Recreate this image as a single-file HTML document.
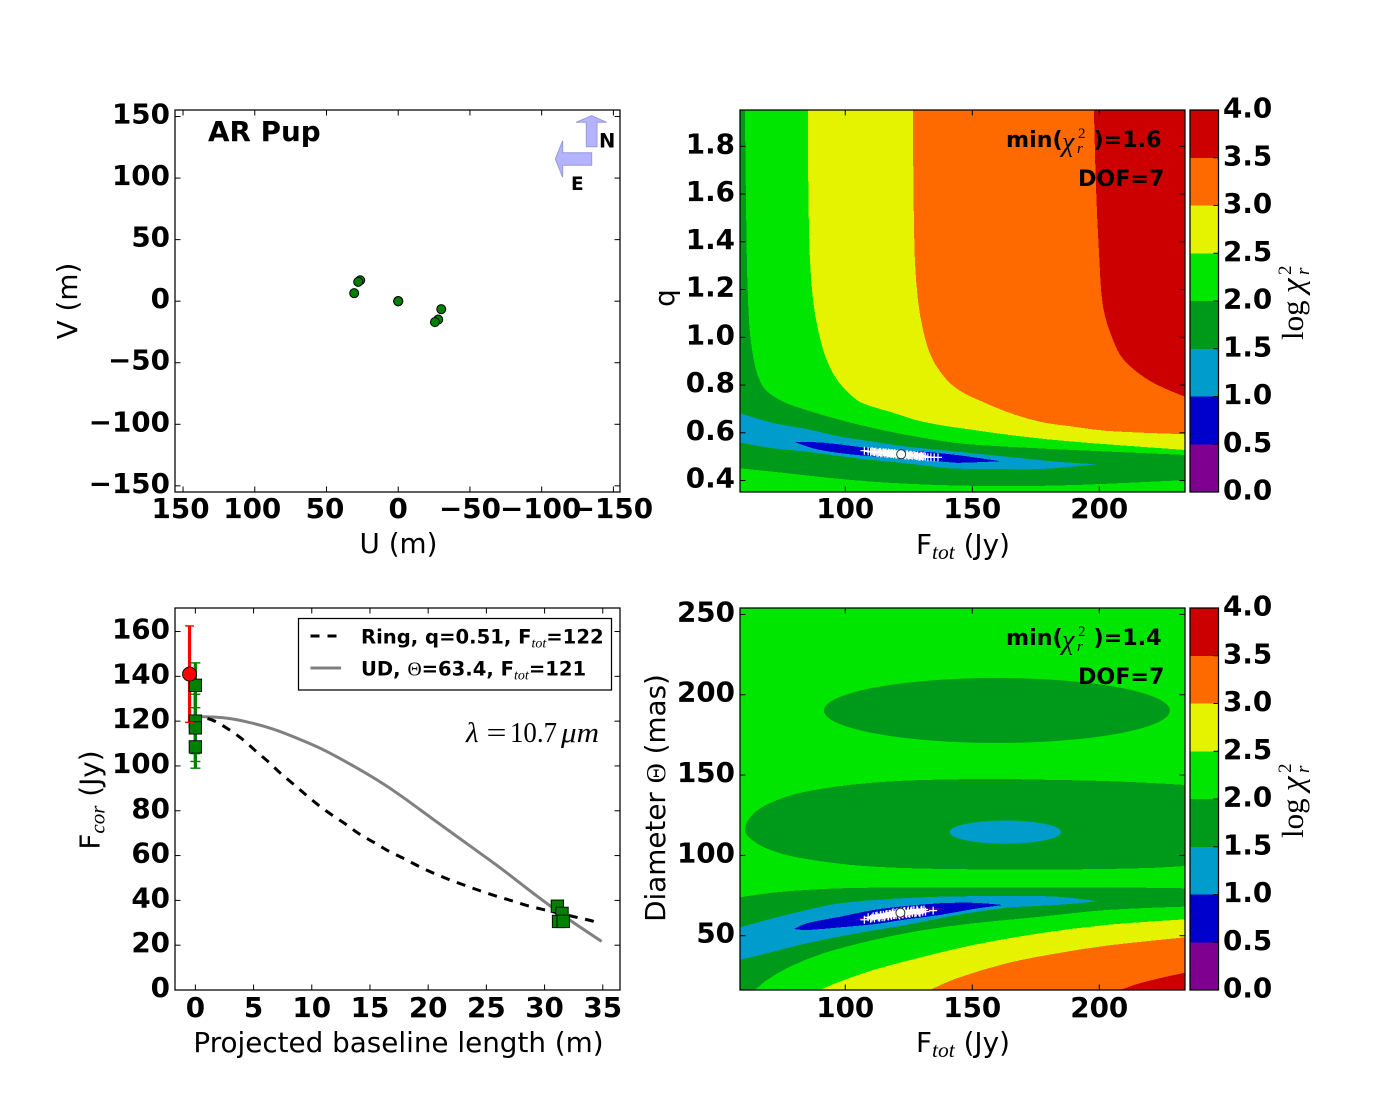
<!DOCTYPE html>
<html lang="en">
<head>
<meta charset="utf-8">
<title>AR Pup interferometry fit</title>
<style>
html,body{margin:0;padding:0;background:#fff;}
svg{display:block;}
text{fill:#000;font-family:"DejaVu Sans","Liberation Sans",sans-serif;}
.t{font-size:27.8px;font-weight:bold;}
.l{font-size:27.8px;font-weight:normal;}
.s{font-size:22.2px;font-weight:bold;}
.g{font-size:19.6px;font-weight:bold;}
.m{font-family:"Liberation Serif","DejaVu Serif",serif;font-weight:normal;}
.i{font-style:italic;}
</style>
</head>
<body>
<svg id="fig" xmlns="http://www.w3.org/2000/svg" width="1400" height="1100" viewBox="0 0 1400 1100">
  <rect x="0" y="0" width="1400" height="1100" fill="#fff"/>
  <defs>
    <clipPath id="clipQ"><rect x="740" y="110" width="445" height="382"/></clipPath>
    <clipPath id="clipD"><rect x="740" y="608" width="445" height="382"/></clipPath>
  </defs>

  <g id="uvPanel"></g>
  <g id="fluxPanel"></g>
  <g id="qPanel"></g>
  <g id="dPanel"></g>
  <g id="cbQ"></g>
  <g id="cbD"></g>

  <!-- UV panel annotations -->
  <text class="t" x="208" y="141">AR Pup</text>
  <polygon points="591.7,115.7 606.7,122.3 597,122.3 597,146.7 586.3,146.7 586.3,122.3 576,122.3" fill="#b3b3ff" stroke="#9a9ad8" stroke-width="1"/>
  <polygon points="555.3,159 562.7,140.7 562.7,152.7 591.7,152.7 591.7,165.3 562.7,165.3 562.7,177.3" fill="#b3b3ff" stroke="#9a9ad8" stroke-width="1"/>
  <text x="599" y="147.5" style="font-size:19.5px;font-weight:bold">N</text>
  <text x="571" y="190" style="font-size:18.5px;font-weight:bold">E</text>
  <text class="l" x="398.5" y="553" text-anchor="middle">U (m)</text>
  <text class="l" transform="translate(77,301) rotate(-90)" text-anchor="middle">V (m)</text>

  <!-- Ring map annotations -->
  <text class="l" x="963" y="554" text-anchor="middle">F<tspan class="m i" font-size="21.5" dy="5">tot</tspan><tspan dy="-5"> (Jy)</tspan></text>
  <text class="l" transform="translate(674,298) rotate(-90)" text-anchor="middle">q</text>
  <g>
    <text class="s" x="1006" y="147">min(</text>
    <text class="m i" x="1062" y="151" font-size="28">χ</text>
    <text class="m" x="1078" y="138" font-size="15">2</text>
    <text class="m i" x="1077" y="153" font-size="15">r</text>
    <text class="s" x="1093.5" y="147">)=1.6</text>
  </g>
  <text class="s" x="1078" y="186">DOF=7</text>

  <!-- Flux panel annotations -->
  <text class="l" x="398.5" y="1052" text-anchor="middle">Projected baseline length (m)</text>
  <text class="l" transform="translate(99.5,800) rotate(-90)" text-anchor="middle">F<tspan class="m i" font-size="21" dy="5">cor</tspan><tspan dy="-5"> (Jy)</tspan></text>
  <g>
    <text class="m i" x="466" y="742" font-size="29">λ</text>
    <text class="m" x="486.5" y="742" font-size="29" textLength="20" lengthAdjust="spacingAndGlyphs">=</text>
    <text class="m" x="510" y="742" font-size="29" textLength="47" lengthAdjust="spacingAndGlyphs">10.7</text>
    <text class="m i" x="561" y="742" font-size="29" textLength="38" lengthAdjust="spacingAndGlyphs">μm</text>
  </g>
  <g id="legend">
    <rect x="298.5" y="618.5" width="313" height="71.5" fill="#fff" stroke="#000" stroke-width="1.25"/>
    <line x1="310.5" y1="636" x2="341" y2="636" stroke="#000" stroke-width="3" stroke-dasharray="9 8"/>
    <text class="g" x="361" y="643.5">Ring, q=0.51, F<tspan class="m i" font-size="14" dy="4">tot</tspan><tspan dy="-4">=122</tspan></text>
    <line x1="310.5" y1="668" x2="341" y2="668" stroke="#808080" stroke-width="3"/>
    <text class="g" x="361" y="675.5">UD, <tspan class="m" font-size="19.6">Θ</tspan>=63.4, F<tspan class="m i" font-size="14" dy="4">tot</tspan><tspan dy="-4">=121</tspan></text>
  </g>

  <!-- UD map annotations -->
  <text class="l" x="963" y="1052" text-anchor="middle">F<tspan class="m i" font-size="21.5" dy="5">tot</tspan><tspan dy="-5"> (Jy)</tspan></text>
  <text class="l" transform="translate(665,798) rotate(-90)" text-anchor="middle">Diameter <tspan class="m">Θ</tspan> (mas)</text>
  <g>
    <text class="s" x="1006" y="645">min(</text>
    <text class="m i" x="1062" y="649" font-size="28">χ</text>
    <text class="m" x="1078" y="636" font-size="15">2</text>
    <text class="m i" x="1077" y="651" font-size="15">r</text>
    <text class="s" x="1093.5" y="645">)=1.4</text>
  </g>
  <text class="s" x="1078" y="684">DOF=7</text>

  <!-- Colorbar titles -->
  <text class="m" transform="translate(1303,340) rotate(-90)" font-size="31">log<tspan class="i" x="47" font-size="33">χ</tspan><tspan x="65" y="-12" font-size="19">2</tspan><tspan class="i" x="65" y="6" font-size="19">r</tspan></text>
  <text class="m" transform="translate(1303,838) rotate(-90)" font-size="31">log<tspan class="i" x="47" font-size="33">χ</tspan><tspan x="65" y="-12" font-size="19">2</tspan><tspan class="i" x="65" y="6" font-size="19">r</tspan></text>
</svg>

<script>
// ---- UV coverage data ----
const uValues = [26.5, 27.9, 30.7, 0, 0, 0, 0, -30, -27.9, -25.6];
const vValues = [17, 15.7, 6.5, 0, 0, 0, 0, -6.5, -14.9, -17];
const uTicks = [150, 100, 50, 0, -50, -100, -150];
const vTicks = [150, 100, 50, 0, -50, -100, -150];

// ---- Correlated flux data ----
const baselineTicks = [0, 5, 10, 15, 20, 25, 30, 35];
const fluxTicks = [0, 20, 40, 60, 80, 100, 120, 140, 160];
const ringBaseline = [0, 1.4, 2.9, 4.1, 5.2, 6.3, 7.3, 8.4, 9.5, 10.6, 11.8, 13, 14.1, 15.4, 16.6, 17.9, 19.2, 20.4, 21.7, 23.1, 24.4, 25.8, 27.2, 28.5, 29.9, 32.7, 34.1, 34.5];
const ringFlux = [122, 120.6, 116.2, 111.7, 106.6, 101.7, 96.8, 92, 87.1, 82.4, 77.9, 73.7, 69.6, 65.7, 62, 58.7, 55.2, 52.3, 49.5, 46.8, 44.4, 42, 39.8, 37.7, 35.9, 32.5, 30.8, 30.1];
const udBaseline = [0, 2.4, 4.4, 6.7, 9, 11, 13.3, 15.6, 17.6, 20.4, 23.3, 26.2, 29, 31.9, 34.9];
const udFlux = [122, 121.5, 119.7, 116.4, 111.8, 107.2, 100.8, 93.8, 86.9, 76.3, 65.4, 54.5, 43.3, 32.2, 21.7];
const greenBaseline = [0, 0, 0, 0, 31.1, 31.5, 31.2, 31.6];
const greenFlux = [136, 120, 117, 108.5, 37.4, 34.2, 30.6, 30.6];
const greenError = [10, 14.5, 15, 9.5, 2, 2, 2, 2];
const redBaseline = [-0.5];
const redFlux = [141];
const redError = [21.5];

// ---- Shared contour levels ----
const levelTicks = [0, 0.5, 1, 1.5, 2, 2.5, 3, 3.5, 4];
const bandColors = ['#7f0090', '#0000cc', '#009ccc', '#009a1a', '#00e600', '#e5f200', '#ff6a00', '#cc0000'];
const fTicks = [100, 150, 200];
const qTicks = [0.4, 0.6, 0.8, 1.0, 1.2, 1.4, 1.6, 1.8];
const dTicks = [50, 100, 150, 200, 250];

// ---- Ring map contour boundaries [Ftot, q] ----
const qLevel15 = [[58.5,1.952],[60.5,1.952],[60.9,1.575],[61.7,1.156],[63.3,.947],[67.2,.8],[74.3,.737],[84.8,.695],[97.9,.654],[110.9,.62],[124.2,.591],[143.9,.557],[163.5,.542],[189.6,.528],[234,.507],[234,.402],[189.6,.381],[163.5,.377],[137.3,.381],[110.9,.395],[91.2,.414],[71.5,.437],[58.5,.451]];
const qLevel25 = [[85.3,1.952],[85.5,1.575],[86.1,1.324],[87.3,1.156],[89.3,1.031],[92.4,.913],[97.1,.817],[104.6,.737],[110.5,.71],[117.6,.688],[130.6,.646],[150.3,.612],[170,.584],[189.6,.563],[234,.528],[234,1.952]];
const qLevel30 = [[126.6,1.952],[126.9,1.575],[127.4,1.324],[128.6,1.156],[130.6,1.031],[134.1,.913],[140,.821],[145.9,.771],[152.5,.737],[163.5,.688],[176.7,.646],[189.6,.626],[202.9,.608],[234,.594],[234,1.952]];
const qLevel35 = [[197.9,1.952],[198.7,1.63],[199.9,1.353],[201.5,1.127],[205.4,.989],[209.7,.905],[220,.817],[234,.75],[234,1.952]];
const qLevel10 = [[58.5,.682],[71.5,.641],[84.8,.616],[97.9,.584],[110.9,.563],[124.2,.542],[143.9,.521],[163.5,.5],[183.2,.479],[199.1,.468],[189.6,.458],[176.7,.448],[156.9,.448],[141.2,.451],[124.2,.472],[104.5,.493],[84.8,.521],[71.5,.535],[58.5,.559]];
const qLevel05 = [[80.2,.561],[91.3,.559],[104.5,.542],[117.6,.528],[130.6,.521],[143.9,.507],[160.9,.481],[150.4,.476],[142.5,.475],[124.2,.493],[104.5,.507],[88.7,.531]];
const qLevel00 = [[106.5,.528],[120,.52],[138,.495],[120,.505]];
const qCloudF = [107.5,109,110.5,111.5,112,113,113.8,114.5,115,115.6,116,116.8,117.3,118,118.5,119,119.6,120,120.7,121,121.8,122.4,123,123.8,124.5,125,125.8,126.4,127,127.9,128.5,129,129.8,130.5,131,132.5,133.7,135,136.5,110,111,112.5,113.5,114,115.3,116.4,117,117.7,118.2,118.8,119.3,120.3,121.4,122,122.7,123.4,124.2,124.8,125.4,126.2,127.4,128.2,129.4,130.1,131.6];
const qCloudQ = [.525,.522,.523,.519,.521,.517,.52,.516,.518,.514,.518,.513,.515,.511,.515,.51,.513,.508,.512,.509,.511,.506,.51,.505,.509,.504,.508,.504,.507,.503,.505,.5,.504,.499,.503,.497,.498,.497,.497,.52,.52,.516,.519,.514,.517,.512,.517,.514,.513,.511,.515,.51,.512,.507,.509,.506,.51,.505,.507,.506,.505,.502,.5,.503,.5];
const qBestF = [122];
const qBestQ = [0.51];

// ---- Uniform disc map contour boundaries [Ftot, Diameter] ----
const dEllipseCentreF = [159.7, 163];
const dEllipseCentreD = [190.2, 114.5];
const dEllipseRadiusF = [68.1, 22];
const dEllipseRadiusD = [20.2, 7.2];
const dMiddle15 = [[60.5,115.8],[63.3,125.2],[70.4,132.6],[82.2,138.9],[101.9,143.9],[121.5,146.4],[141.2,147.3],[160.9,147.6],[180.6,147],[200.3,146.4],[220,145.1],[234,143.8],[234,93.4],[220,92.2],[200.3,91.5],[180.6,91.2],[160.9,91.2],[141.2,91.5],[121.5,92.2],[101.9,94.1],[82.2,98.4],[70.4,103.4],[63.3,109.6]];
const dLower15 = [[58.5,73.9],[71.5,76.8],[84.8,78.5],[97.9,79.5],[124.2,80.1],[163.5,80.1],[202.9,80.1],[234,79.5],[234,68.1],[202.9,66],[176.7,61.8],[150.4,57.7],[130.7,53.5],[111,47.3],[91.3,39],[78.2,30.7],[69.1,22.4],[63.8,16.2],[58.5,16.2]];
const dLevel25 = [[90,16.2],[97.9,21.4],[111,28.6],[130.7,36.9],[150.4,44.2],[176.7,51.5],[202.9,56.7],[234,60.2],[234,16.2]];
const dLevel30 = [[133.3,16.2],[143.9,23.5],[163.5,32.8],[183.2,39],[202.9,43.8],[234,49],[234,16.2]];
const dLevel35 = [[208.2,16.2],[216,20.4],[226.5,24.5],[234,27],[234,16.2]];
const dLevel10 = [[58.5,55.2],[71.5,60.8],[84.8,66],[97.9,70.2],[117.6,72.9],[137.3,74.3],[163.5,74.7],[183.2,74.3],[199.6,71.4],[183.2,69.1],[163.5,67.4],[143.9,62.9],[124.2,56.7],[104.5,51.5],[84.8,45.3],[71.5,40],[58.5,34.9]];
const dLevel05 = [[79.8,54.2],[84.8,57.7],[97.9,61.8],[111,66],[124.2,68.5],[137.3,70.2],[150.4,70.5],[162,69.1],[150.4,66.6],[137.3,62.9],[124.2,60.2],[111,57.1],[97.9,55.2],[84.8,53.5]];
const dLevel00 = [[104.2,60.2],[121.5,66],[138.6,67],[121.5,61]];
const dCloudF = [107.5,109,110.5,111.5,112,113,113.8,114.5,115,115.6,116,116.8,117.3,118,118.5,119,119.6,120,120.7,121,121.8,122.4,123,123.8,124.5,125,125.8,126.4,127,127.9,128.5,129,129.8,130.5,131,134.6,110,111,112.5,113.5,114,115.3,116.4,117,117.7,118.2,118.8,119.3,120.3,121.4,122,122.7,123.4,124.2,124.8,125.4,126.2,127.4,128.2,129.4,130.1,131.6];
const dCloudD = [59.9,61.5,61.2,60.8,62.3,61.4,62.6,61.6,63,62,63.2,62.2,63.6,62.7,64,62.9,64.2,63,64.5,63.3,64.7,63.4,65,63.8,65.1,64,65.3,64.2,66,64.4,65.6,64.6,65.8,64.9,66.3,65.6,60.5,62,62.6,61.2,63,61.5,63.5,62,63.6,62.3,64.6,62.8,64.5,62.6,65.1,63.2,65.4,63.4,65.6,63.6,65.8,64,66.3,64.2,66.2,65];
const dBestF = [121.7];
const dBestD = [64.3];

// ---- Axis functions ----
function linear(domain, range) {
  const k = (range[1] - range[0]) / (domain[1] - domain[0]);
  return function (v) { return range[0] + (v - domain[0]) * k; };
}
const xU = linear([155.6, -154.6], [175, 620]);
const yV = linear([-155, 155.3], [492, 110]);
const xB = linear([-1.75, 36.48], [175, 620]);
const yFlux = linear([0, 170.5], [990, 608]);
const xFq = linear([58.55, 233.75], [740, 1185]);
const yQ = linear([0.352, 1.952], [492, 110]);
const xFd = linear([58.55, 233.75], [740, 1185]);
const yD = linear([16.2, 254], [990, 608]);
const yCbTop = linear([0, 4], [492, 110]);
const yCbBottom = linear([0, 4], [990, 608]);

const NS = 'http://www.w3.org/2000/svg';
function add(parent, tag, name, props) {
  const el = document.createElementNS(NS, tag);
  
  
  for (const key in props) el.setAttribute(key, props[key]);
  parent.appendChild(el);
  return el;
}
function label(parent, name, str, x, y, anchor) {
  const el = add(parent, 'text', name, { x: x, y: y, 'text-anchor': anchor, class: 't' });
  el.textContent = str;
}
function fmt(v, digits) {
  return v.toFixed(digits).replace('-', '\u2212');
}
function noNudge() { return 0; }
function uNudge(v) {
  if (v > 50) return -2.5;
  if (v > 0) return -1.5;
  if (v < -50) return -1;
  return 0;
}
function drawAxes(parent, box, xTicks, yTicks, xf, yf, xDigits, yDigits, xLabelY, nudge) {
  const tickLen = 5.5;
  add(parent, 'rect', 'axes-frame', { x: box.x, y: box.y, width: box.w, height: box.h, fill: 'none', stroke: '#000', 'stroke-width': 1.25 });
  xTicks.forEach(function (v) {
    const px = xf(v);
    add(parent, 'line', 'x-tick-bottom', { x1: px, x2: px, y1: box.y + box.h, y2: box.y + box.h - tickLen, stroke: '#000', 'stroke-width': 1 });
    add(parent, 'line', 'x-tick-top', { x1: px, x2: px, y1: box.y, y2: box.y + tickLen, stroke: '#000', 'stroke-width': 1 });
    label(parent, 'x-tick-label', fmt(v, xDigits), px + nudge(v), xLabelY, 'middle');
  });
  yTicks.forEach(function (v) {
    const py = yf(v);
    add(parent, 'line', 'y-tick-left', { x1: box.x, x2: box.x + tickLen, y1: py, y2: py, stroke: '#000', 'stroke-width': 1 });
    add(parent, 'line', 'y-tick-right', { x1: box.x + box.w, x2: box.x + box.w - tickLen, y1: py, y2: py, stroke: '#000', 'stroke-width': 1 });
    label(parent, 'y-tick-label', fmt(v, yDigits), box.x - 5, py + 7, 'end');
  });
}
// Smooth path through pixel points; sharp turns stay as corners.
function smoothPath(pts, closed) {
  const n = pts.length;
  const tangents = pts.map(function (p, i) {
    if (!closed && (i === 0 || i === n - 1)) return [0, 0];
    const a = pts[(i - 1 + n) % n], b = pts[(i + 1) % n];
    const d1 = Math.atan2(p[1] - a[1], p[0] - a[0]);
    const d2 = Math.atan2(b[1] - p[1], b[0] - p[0]);
    let turn = Math.abs(d2 - d1) * 180 / Math.PI;
    if (turn > 180) turn = 360 - turn;
    if (turn > 65) return [0, 0];
    const dx = b[0] - a[0], dy = b[1] - a[1];
    const len = Math.hypot(dx, dy) || 1;
    return [dx / len, dy / len];
  });
  let d = 'M' + pts[0][0].toFixed(2) + ' ' + pts[0][1].toFixed(2);
  const segs = closed ? n : n - 1;
  for (let i = 0; i < segs; i++) {
    const j = (i + 1) % n;
    const L = Math.hypot(pts[j][0] - pts[i][0], pts[j][1] - pts[i][1]) / 3;
    d += 'C' + (pts[i][0] + tangents[i][0] * L).toFixed(2) + ' ' + (pts[i][1] + tangents[i][1] * L).toFixed(2) +
         ' ' + (pts[j][0] - tangents[j][0] * L).toFixed(2) + ' ' + (pts[j][1] - tangents[j][1] * L).toFixed(2) +
         ' ' + pts[j][0].toFixed(2) + ' ' + pts[j][1].toFixed(2);
  }
  return d + (closed ? 'Z' : '');
}
function band(parent, name, pairs, xf, yf, color) {
  const pts = pairs.map(function (p) { return [xf(p[0]), yf(p[1])]; });
  add(parent, 'path', name, { d: smoothPath(pts, true), fill: color, 'shape-rendering': 'crispEdges' });
}
function plusMark(parent, name, cx, cy) {
  add(parent, 'path', name, { d: 'M' + (cx - 4) + ' ' + cy + 'H' + (cx + 4) + 'M' + cx + ' ' + (cy - 4) + 'V' + (cy + 4), stroke: '#fff', 'stroke-width': 1.2, fill: 'none' });
}
function drawColorbar(parent, top, yf) {
  const x = 1190, w = 28.5, h = 382;
  bandColors.forEach(function (c, i) {
    const y1 = yf(levelTicks[i + 1]), y0 = yf(levelTicks[i]);
    add(parent, 'rect', 'colorbar-band', { x: x, y: y1, width: w, height: y0 - y1, fill: c, 'shape-rendering': 'crispEdges' });
  });
  add(parent, 'rect', 'colorbar-frame', { x: x, y: top, width: w, height: h, fill: 'none', stroke: '#000', 'stroke-width': 1.25 });
  levelTicks.forEach(function (v) {
    const py = yf(v);
    add(parent, 'line', 'colorbar-tick', { x1: x + w - 5, x2: x + w, y1: py, y2: py, stroke: '#000', 'stroke-width': 1 });
    label(parent, 'colorbar-tick-label', v.toFixed(1), 1223, py + 7.5, 'start');
  });
}

// ---- UV panel ----
const uvPanel = document.getElementById('uvPanel');
add(uvPanel, 'rect', 'uv-plot-area', { x: 175, y: 110, width: 445, height: 382, fill: '#fff' });
uValues.forEach(function (u, i) {
  add(uvPanel, 'circle', 'uv-point', { cx: xU(u), cy: yV(vValues[i]), r: 4.5, fill: '#008000', stroke: '#000', 'stroke-width': 1 });
});
drawAxes(uvPanel, { x: 175, y: 110, w: 445, h: 382 }, uTicks, vTicks, xU, yV, 0, 0, 518, uNudge);

// ---- Flux panel ----
const fluxPanel = document.getElementById('fluxPanel');
add(fluxPanel, 'rect', 'flux-plot-area', { x: 175, y: 608, width: 445, height: 382, fill: '#fff' });
add(fluxPanel, 'path', 'ud-model-curve', { d: smoothPath(udBaseline.map(function (b, i) { return [xB(b), yFlux(udFlux[i])]; }), false), fill: 'none', stroke: '#808080', 'stroke-width': 3 });
add(fluxPanel, 'path', 'ring-model-curve', { d: smoothPath(ringBaseline.map(function (b, i) { return [xB(b), yFlux(ringFlux[i])]; }), false), fill: 'none', stroke: '#000', 'stroke-width': 3, 'stroke-dasharray': '9 7.7', 'stroke-dashoffset': 4.5 });
redBaseline.forEach(function (b, i) {
  add(fluxPanel, 'line', 'red-error-bar', { x1: xB(b), x2: xB(b), y1: yFlux(redFlux[i] - redError[i]), y2: yFlux(redFlux[i] + redError[i]), stroke: '#f00', 'stroke-width': 3.2 });
  add(fluxPanel, 'line', 'red-error-cap-top', { x1: xB(b) - 4.5, x2: xB(b) + 4.5, y1: yFlux(redFlux[i] + redError[i]), y2: yFlux(redFlux[i] + redError[i]), stroke: '#f00', 'stroke-width': 1.4 });
});
greenBaseline.forEach(function (b, i) {
  const px = xB(b);
  const hi = yFlux(greenFlux[i] + greenError[i]);
  const lo = yFlux(greenFlux[i] - greenError[i]);
  add(fluxPanel, 'line', 'green-error-bar', { x1: px, x2: px, y1: hi, y2: lo, stroke: '#008000', 'stroke-width': 3.2 });
  add(fluxPanel, 'line', 'green-error-cap-top', { x1: px - 5, x2: px + 5, y1: hi, y2: hi, stroke: '#008000', 'stroke-width': 1.4 });
  add(fluxPanel, 'line', 'green-error-cap-bottom', { x1: px - 5, x2: px + 5, y1: lo, y2: lo, stroke: '#008000', 'stroke-width': 1.4 });
});
greenBaseline.forEach(function (b, i) {
  add(fluxPanel, 'rect', 'green-flux-square', { x: xB(b) - 6.2, y: yFlux(greenFlux[i]) - 6.2, width: 12.4, height: 12.4, fill: '#008000', stroke: '#000', 'stroke-width': 0.9 });
});
redBaseline.forEach(function (b, i) {
  add(fluxPanel, 'line', 'red-error-cap-bottom', { x1: xB(b) - 4.5, x2: xB(b) + 4.5, y1: yFlux(redFlux[i] - redError[i]), y2: yFlux(redFlux[i] - redError[i]), stroke: '#f00', 'stroke-width': 1.4 });
  add(fluxPanel, 'circle', 'red-flux-point', { cx: xB(b), cy: yFlux(redFlux[i]), r: 7, fill: '#f00', stroke: '#000', 'stroke-width': 0.9 });
});
drawAxes(fluxPanel, { x: 175, y: 608, w: 445, h: 382 }, baselineTicks, fluxTicks, xB, yFlux, 0, 0, 1017, noNudge);

// ---- Ring chi2 map ----
const qPanel = document.getElementById('qPanel');
const qMap = add(qPanel, 'g', 'ring-contour-fill', { 'clip-path': 'url(#clipQ)' });
add(qMap, 'rect', 'ring-band-2-to-2p5', { x: 740, y: 110, width: 445, height: 382, fill: bandColors[4] });
band(qMap, 'ring-band-1p5-to-2', qLevel15, xFq, yQ, bandColors[3]);
band(qMap, 'ring-band-2p5-to-3', qLevel25, xFq, yQ, bandColors[5]);
band(qMap, 'ring-band-3-to-3p5', qLevel30, xFq, yQ, bandColors[6]);
band(qMap, 'ring-band-3p5-to-4', qLevel35, xFq, yQ, bandColors[7]);
band(qMap, 'ring-band-1-to-1p5', qLevel10, xFq, yQ, bandColors[2]);
band(qMap, 'ring-band-0p5-to-1', qLevel05, xFq, yQ, bandColors[1]);
band(qMap, 'ring-band-0-to-0p5', qLevel00, xFq, yQ, bandColors[0]);
qCloudF.forEach(function (f, i) {
  plusMark(qMap, 'ring-bootstrap-fit', xFq(f), yQ(qCloudQ[i]));
});
qBestF.forEach(function (f, i) {
  add(qMap, 'circle', 'ring-best-fit', { cx: xFq(f), cy: yQ(qBestQ[i]), r: 4.5, fill: '#fff', stroke: '#333', 'stroke-width': 1 });
});
drawAxes(qPanel, { x: 740, y: 110, w: 445, h: 382 }, fTicks, qTicks, xFq, yQ, 0, 1, 518, noNudge);

// ---- Uniform disc chi2 map ----
const dPanel = document.getElementById('dPanel');
const dMap = add(dPanel, 'g', 'ud-contour-fill', { 'clip-path': 'url(#clipD)' });
add(dMap, 'rect', 'ud-band-2-to-2p5', { x: 740, y: 608, width: 445, height: 382, fill: bandColors[4] });
add(dMap, 'ellipse', 'ud-upper-ellipse', { cx: xFd(dEllipseCentreF[0]), cy: yD(dEllipseCentreD[0]), rx: xFd(dEllipseCentreF[0] + dEllipseRadiusF[0]) - xFd(dEllipseCentreF[0]), ry: yD(dEllipseCentreD[0] - dEllipseRadiusD[0]) - yD(dEllipseCentreD[0]), fill: bandColors[3] });
band(dMap, 'ud-middle-band', dMiddle15, xFd, yD, bandColors[3]);
add(dMap, 'ellipse', 'ud-middle-ellipse', { cx: xFd(dEllipseCentreF[1]), cy: yD(dEllipseCentreD[1]), rx: xFd(dEllipseCentreF[1] + dEllipseRadiusF[1]) - xFd(dEllipseCentreF[1]), ry: yD(dEllipseCentreD[1] - dEllipseRadiusD[1]) - yD(dEllipseCentreD[1]), fill: bandColors[2] });
band(dMap, 'ud-lower-band', dLower15, xFd, yD, bandColors[3]);
band(dMap, 'ud-band-2p5-to-3', dLevel25, xFd, yD, bandColors[5]);
band(dMap, 'ud-band-3-to-3p5', dLevel30, xFd, yD, bandColors[6]);
band(dMap, 'ud-band-3p5-to-4', dLevel35, xFd, yD, bandColors[7]);
band(dMap, 'ud-band-1-to-1p5', dLevel10, xFd, yD, bandColors[2]);
band(dMap, 'ud-band-0p5-to-1', dLevel05, xFd, yD, bandColors[1]);
band(dMap, 'ud-band-0-to-0p5', dLevel00, xFd, yD, bandColors[0]);
dCloudF.forEach(function (f, i) {
  plusMark(dMap, 'ud-bootstrap-fit', xFd(f), yD(dCloudD[i]));
});
dBestF.forEach(function (f, i) {
  add(dMap, 'circle', 'ud-best-fit', { cx: xFd(f), cy: yD(dBestD[i]), r: 4.5, fill: '#fff', stroke: '#333', 'stroke-width': 1 });
});
drawAxes(dPanel, { x: 740, y: 608, w: 445, h: 382 }, fTicks, dTicks, xFd, yD, 0, 0, 1017, noNudge);

// ---- Colorbars ----
drawColorbar(document.getElementById('cbQ'), 110, yCbTop);
drawColorbar(document.getElementById('cbD'), 608, yCbBottom);

// ---- Keep the legend above the flux panel ----
const fig = document.getElementById('fig');
fig.appendChild(document.getElementById('legend'));
</script>
</body>
</html>
